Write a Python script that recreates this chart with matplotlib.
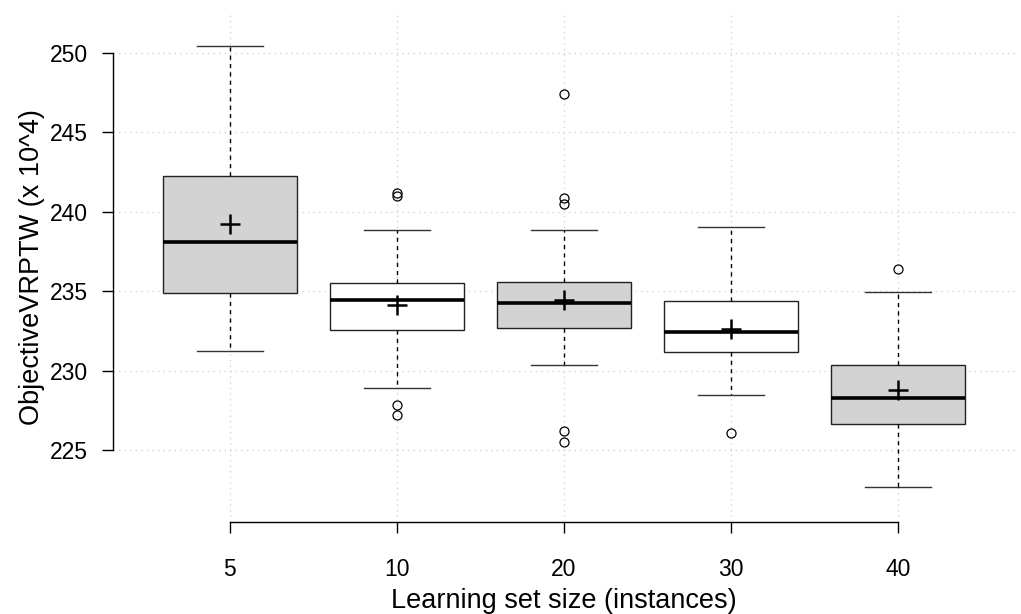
import matplotlib
matplotlib.use("Agg")
import matplotlib.pyplot as plt

plt.rcParams['font.family'] = ['Liberation Sans', 'DejaVu Sans']

# learning set sizes and box statistics
sizes = ["5", "10", "20", "30", "40"]
whislo = [231.2, 228.9, 230.35, 228.45, 222.7]
q1 = [234.9, 232.55, 232.7, 231.15, 226.65]
med = [238.1, 234.45, 234.25, 232.45, 228.25]
q3 = [242.25, 235.5, 235.6, 234.4, 230.35]
whishi = [250.45, 238.85, 238.85, 239.05, 234.95]
means = [239.25, 234.15, 234.45, 232.6, 228.8]
fliers = [
    [],
    [241.2, 241.0, 227.85, 227.2],
    [247.4, 240.85, 240.5, 226.2, 225.5],
    [226.1],
    [236.4],
]
fills = ["#d3d3d3", "white", "#d3d3d3", "white", "#d3d3d3"]
yticks = [225, 230, 235, 240, 245, 250]

stats = []
for i in range(len(sizes)):
    stats.append({
        "label": sizes[i], "whislo": whislo[i], "q1": q1[i], "med": med[i],
        "q3": q3[i], "whishi": whishi[i], "mean": means[i], "fliers": fliers[i],
    })

positions = list(range(1, len(sizes) + 1))

fig = plt.figure(figsize=(10.21, 6.14), dpi=100)
ax = fig.add_axes([113 / 1021, 1 - 522 / 614, 902 / 1021, 509 / 614])

bp = ax.bxp(
    stats, positions=positions, widths=0.8, capwidths=0.4,
    patch_artist=True, showmeans=True, manage_ticks=False,
    boxprops=dict(edgecolor="#222222", linewidth=1.0),
    medianprops=dict(color="black", linewidth=2.6, solid_capstyle="butt"),
    whiskerprops=dict(color="black", linewidth=1.0, linestyle=(0, (3, 3))),
    capprops=dict(color="#333333", linewidth=1.0),
    flierprops=dict(marker="o", markersize=6.5, markerfacecolor="none",
                    markeredgecolor="black", markeredgewidth=0.9),
    meanprops=dict(marker="+", markersize=14, markeredgewidth=1.8,
                   markeredgecolor="black"),
)
for box, c in zip(bp["boxes"], fills):
    box.set_facecolor(c)
    box.set_zorder(2)

# dotted light grey grid behind boxes
for y in yticks:
    ax.axhline(y, color="#d3d3d3", linestyle=(0, (1, 3)), linewidth=1.0, zorder=0)
for x in positions:
    ax.axvline(x, color="#d3d3d3", linestyle=(0, (1, 3)), linewidth=1.0, zorder=0)

ax.set_xlim(0.3, 5.7)
ax.set_ylim(220.47, 252.5)

ax.spines["top"].set_visible(False)
ax.spines["right"].set_visible(False)
ax.spines["left"].set_bounds(225, 250)
ax.spines["bottom"].set_bounds(1, 5)
for s in ("left", "bottom"):
    ax.spines[s].set_linewidth(1.0)

ax.set_xticks(positions)
ax.set_xticklabels(sizes)
ax.set_yticks(yticks)
ax.tick_params(axis="both", length=8, width=1.0, labelsize=16.5)
ax.tick_params(axis="x", pad=18)
ax.tick_params(axis="y", pad=10)

ax.set_xlabel("Learning set size (instances)", fontsize=19.5, labelpad=5)
ax.set_ylabel("ObjectiveVRPTW (x 10^4)", fontsize=19.5, labelpad=3.5)

fig.savefig("out.png", dpi=100)
